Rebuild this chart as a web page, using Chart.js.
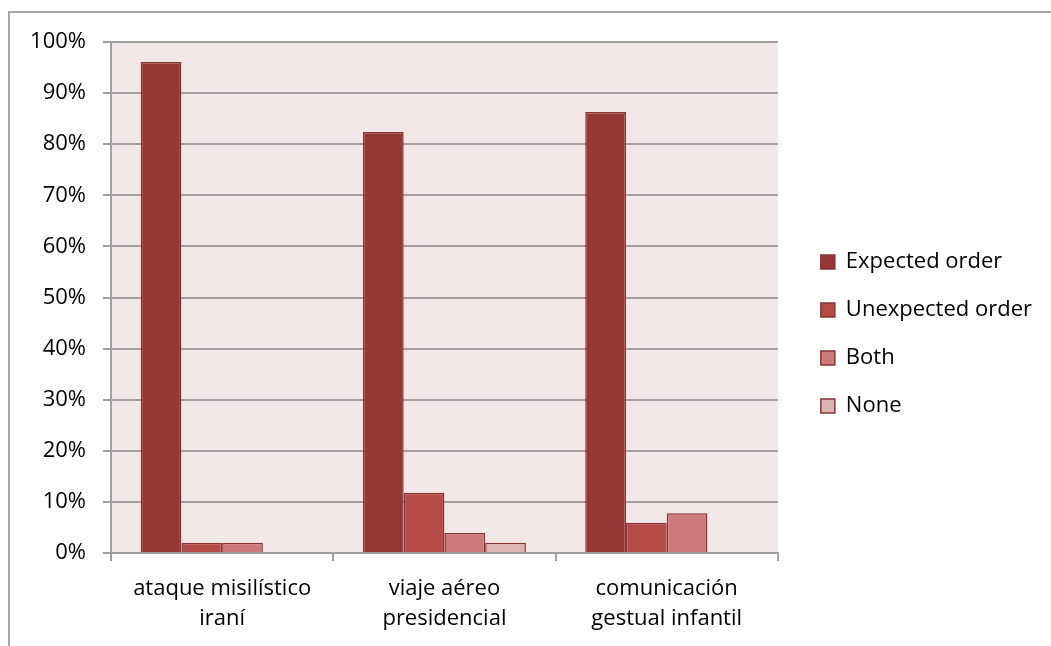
<!DOCTYPE html>
<html>
<head>
<meta charset="utf-8">
<script src="https://cdn.jsdelivr.net/npm/chart.js@4/dist/chart.umd.min.js"></script>
<style>
  html, body { margin: 0; padding: 0; background: #fff; overflow: hidden; }
  #wrap { position: relative; width: 1051px; height: 646px; }
  #frame { position: absolute; left: 8px; top: 11px; width: 1100px; height: 700px; border: 2px solid #a6a6a6; }
  canvas { position: absolute; left: 0; top: 0; }
</style>
</head>
<body>
<div id="wrap">
  <div id="frame"></div>
  <canvas id="chart" width="1051" height="646"></canvas>
</div>
<script>
// categories (two lines each) and series, values in percent
const categories = [
    ['ataque misilístico', 'iraní'],
    ['viaje aéreo', 'presidencial'],
    ['comunicación', 'gestual infantil']
]
const seriesNames = ['Expected order', 'Unexpected order', 'Both', 'None']
const expectedOrder = [96.1, 82.4, 86.3]
const unexpectedOrder = [2, 11.8, 5.9]
const both = [2, 3.9, 7.8]
const none = [0, 2, 0]
const yTicks = [0, 10, 20, 30, 40, 50, 60, 70, 80, 90, 100]

const fills = ['#953735', '#b54a47', '#cc7b7a', '#ddb4b4']
const gridGray = '#a0a0a0'
const fontFamily = '"Open Sans", Lato, sans-serif'

// pink plot area behind the bars
const plotBackground = {
    id: 'plotBackground',
    beforeDraw(chart) {
        const { ctx, chartArea } = chart
        ctx.save()
        ctx.fillStyle = '#f2e7e7'
        ctx.fillRect(chartArea.left, chartArea.top, chartArea.right - chartArea.left, chartArea.bottom - chartArea.top)
        ctx.restore()
    }
}

// empty axes used only as spacers
const spacer = (position, size) => ({
    type: 'linear',
    position: position,
    display: true,
    grid: { display: false },
    border: { display: false },
    ticks: { display: false },
    afterFit: s => {
        if (position == 'top') s.height = size
        else s.width = size
    }
})

const values = [expectedOrder, unexpectedOrder, both, none]
const datasets = seriesNames.map((name, i) => ({
    label: name,
    data: values[i],
    backgroundColor: fills[i],
    borderColor: '#8b3533',
    borderWidth: 1.5,
    categoryPercentage: 0.733,
    barPercentage: 1
}))

new Chart(document.getElementById('chart'), {
    type: 'bar',
    data: { labels: categories, datasets: datasets },
    plugins: [plotBackground],
    options: {
        responsive: false,
        animation: false,
        layout: { padding: { top: 22, left: 0, right: 9, bottom: 0 } },
        plugins: {
            tooltip: { enabled: false },
            legend: {
                position: 'right',
                maxWidth: 320,
                labels: {
                    color: '#000',
                    font: { family: fontFamily, size: 22 },
                    boxWidth: 14,
                    boxHeight: 14,
                    padding: 26
                }
            }
        },
        scales: {
            x: {
                grid: { offset: true, drawOnChartArea: false, color: gridGray, lineWidth: 2, tickLength: 8 },
                border: { color: gridGray, width: 2 },
                ticks: {
                    color: '#000',
                    padding: 13,
                    maxRotation: 0,
                    font: { family: fontFamily, size: 22, lineHeight: 1.36 }
                },
                afterFit: s => { s.height = 93 }
            },
            y: {
                min: 0,
                max: 100,
                afterBuildTicks: s => { s.ticks = yTicks.map(v => ({ value: v })) },
                grid: { color: gridGray, lineWidth: 2, tickLength: 8 },
                border: { color: gridGray, width: 2 },
                ticks: {
                    color: '#000',
                    padding: 17,
                    font: { family: fontFamily, size: 22 },
                    callback: v => v + '%'
                },
                afterFit: s => { s.width = 111 }
            },
            gapRight: spacer('right', 17),
            gapTop: spacer('top', 20)
        }
    }
})
</script>
</body>
</html>
